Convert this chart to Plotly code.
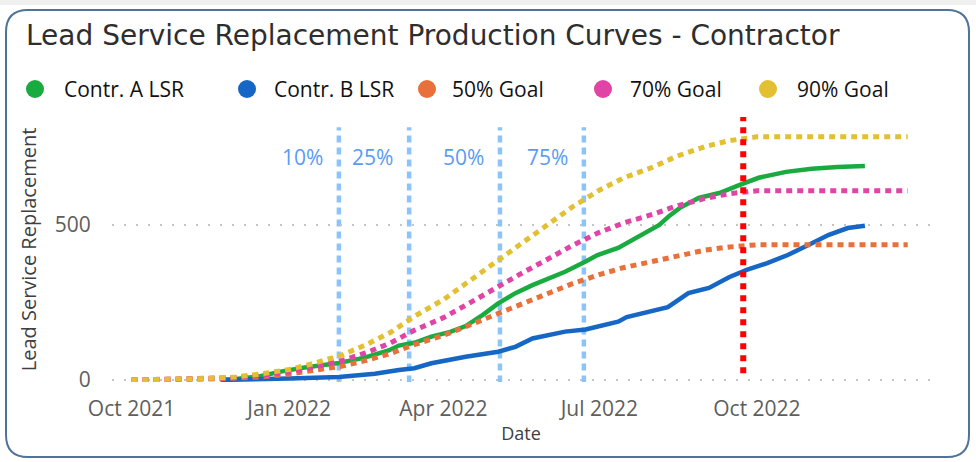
import plotly.graph_objects as go

# ---------------- data ----------------
goal_dates = ["2021-10-01", "2021-10-15", "2021-11-01", "2021-11-15", "2021-12-01", "2021-12-15",
              "2022-01-01", "2022-01-15", "2022-02-01", "2022-02-15", "2022-03-01", "2022-03-15",
              "2022-04-01", "2022-04-15", "2022-05-01", "2022-05-15", "2022-06-01", "2022-06-15",
              "2022-07-01", "2022-07-15", "2022-08-01", "2022-08-15", "2022-09-01", "2022-09-15",
              "2022-10-01", "2022-12-28"]
goal_90 = [0, 1, 2, 5, 10, 19, 34, 53, 81, 114, 153, 205, 259, 314, 380, 435, 502, 557, 612, 651,
           686, 721, 753, 772, 784, 784]
goal_70 = [0, 1, 2, 4, 8, 15, 26, 41, 63, 88, 119, 160, 201, 244, 296, 339, 390, 433, 476, 506,
           534, 561, 586, 601, 610, 610]
goal_50 = [0, 0, 1, 3, 6, 10, 19, 30, 45, 63, 85, 114, 144, 174, 211, 242, 279, 310, 340, 362,
           382, 401, 419, 429, 436, 436]

a_dates = ["2021-11-22", "2021-12-01", "2021-12-15", "2021-12-27", "2022-01-10", "2022-01-30",
           "2022-02-14", "2022-02-28", "2022-03-06", "2022-03-15", "2022-03-25", "2022-04-05",
           "2022-04-14", "2022-04-24", "2022-05-03", "2022-05-13", "2022-05-23", "2022-06-01",
           "2022-06-11", "2022-06-23", "2022-06-30", "2022-07-12", "2022-07-24", "2022-08-05",
           "2022-08-11", "2022-08-17", "2022-08-28", "2022-09-09", "2022-09-21", "2022-10-02",
           "2022-10-18", "2022-11-02", "2022-11-17", "2022-12-03"]
a_vals = [0, 3, 12, 27, 40, 55, 72, 95, 111, 120, 140, 155, 174, 210, 247, 280, 306, 325, 349, 382,
          403, 426, 461, 500, 530, 555, 587, 603, 629, 652, 671, 681, 687, 690]

b_dates = ["2021-11-22", "2021-12-15", "2022-01-01", "2022-01-30", "2022-02-20", "2022-03-06",
           "2022-03-15", "2022-03-25", "2022-04-14", "2022-05-03", "2022-05-13", "2022-05-23",
           "2022-06-11", "2022-06-23", "2022-07-12", "2022-07-17", "2022-07-30", "2022-08-10",
           "2022-08-22", "2022-09-03", "2022-09-15", "2022-09-25", "2022-10-07", "2022-10-19",
           "2022-10-31", "2022-11-12", "2022-11-23", "2022-12-03"]
b_vals = [0, 2, 5, 10, 20, 32, 38, 54, 75, 91, 107, 134, 156, 163, 188, 203, 219, 235, 280, 297,
          332, 355, 377, 403, 435, 468, 490, 497]

milestone_dates = ["2022-01-30", "2022-03-12", "2022-05-04", "2022-06-22"]
milestone_labels = ["10%", "25%", "50%", "75%"]
today_date = "2022-09-23"

tick_dates = ["2021-10-01", "2022-01-01", "2022-04-01", "2022-07-01", "2022-10-01"]
tick_labels = ["Oct 2021", "Jan 2022", "Apr 2022", "Jul 2022", "Oct 2022"]
y_ticks = [0, 500]

series_names = ["Contr. A LSR", "Contr. B LSR", "50% Goal", "70% Goal", "90% Goal"]
colors = ["#1AAB40", "#1666C5", "#E8703A", "#E044A7", "#E2C031"]

# ---------------- layout geometry (pixels) ----------------
W, H = 976, 462
L, R, T, B = 112, 930, 117, 382
FONT = "Open Sans"
TITLE_FONT = "DejaVu Sans"


def px(x):
    return (x - L) / (R - L)


def py(y):
    return (B - y) / (B - T)


fig = go.Figure()

fig.add_trace(go.Scatter(x=a_dates, y=a_vals, mode="lines", name=series_names[0],
                         line=dict(color=colors[0], width=4.5)))
fig.add_trace(go.Scatter(x=b_dates, y=b_vals, mode="lines", name=series_names[1],
                         line=dict(color=colors[1], width=4.5)))
for vals, nm, c in [(goal_50, series_names[2], colors[2]),
                    (goal_70, series_names[3], colors[3]),
                    (goal_90, series_names[4], colors[4])]:
    fig.add_trace(go.Scatter(x=goal_dates, y=vals, mode="lines", name=nm,
                             line=dict(color=c, width=5, dash="6px,5px")))

shapes = []
annotations = []

# milestone lines + labels
for d, lab in zip(milestone_dates, milestone_labels):
    shapes.append(dict(type="line", xref="x", yref="y", x0=d, x1=d, y0=-8, y1=815,
                       line=dict(color="#8CC4FA", width=4.5, dash="7px,5px"), layer="below"))
    annotations.append(dict(x=d, y=719, xref="x", yref="y", text=lab, showarrow=False,
                            xanchor="right", yanchor="middle", xshift=-14,
                            font=dict(family=FONT, size=21, color="#5A9BF5")))

# today line
shapes.append(dict(type="line", xref="x", yref="y", x0=today_date, x1=today_date, y0=22, y1=848,
                   line=dict(color="#FF0000", width=6, dash="6px,6px"), layer="above"))


def P(x, y):
    return f"{px(x):.5f},{py(y):.5f}"


# card border
x0, y0, x1, y1, r = 6, 10, 969, 457, 22
path = (f"M {P(x0 + r, y0)} L {P(x1 - r, y0)} Q {P(x1, y0)} {P(x1, y0 + r)} "
        f"L {P(x1, y1 - r)} Q {P(x1, y1)} {P(x1 - r, y1)} L {P(x0 + r, y1)} "
        f"Q {P(x0, y1)} {P(x0, y1 - r)} L {P(x0, y0 + r)} Q {P(x0, y0)} {P(x0 + r, y0)} Z")
shapes.append(dict(type="path", xref="paper", yref="paper", path=path,
                   line=dict(color="#4F7399", width=2), layer="above"))
shapes.append(dict(type="rect", xref="paper", yref="paper", x0=px(0), x1=px(W), y0=py(0), y1=py(5),
                   fillcolor="#F0F0F0", line=dict(width=0), layer="below"))

# title
annotations.append(dict(x=px(24), y=py(35), xref="paper", yref="paper",
                        text="Lead Service Replacement Production Curves - Contractor",
                        showarrow=False, xanchor="left", yanchor="middle",
                        font=dict(family=TITLE_FONT, size=28, color="#2E2E2E")))

# manual legend
legend_circle_x = [35, 247, 427, 603, 768]
legend_text_x = [62, 272, 450, 628, 795]
for cx, tx, nm, c in zip(legend_circle_x, legend_text_x, series_names, colors):
    shapes.append(dict(type="circle", xref="paper", yref="paper", xsizemode="pixel",
                       ysizemode="pixel", xanchor=px(cx), yanchor=py(89),
                       x0=-9, x1=9, y0=-9, y1=9, fillcolor=c, line=dict(width=0)))
    annotations.append(dict(x=px(tx), y=py(89), xref="paper", yref="paper", text=nm,
                            showarrow=False, xanchor="left", yanchor="middle",
                            font=dict(family=FONT, size=21, color="#111111")))

fig.update_layout(
    width=W, height=H,
    margin=dict(l=L, r=W - R, t=T, b=H - B),
    paper_bgcolor="white", plot_bgcolor="white",
    showlegend=False,
    shapes=shapes, annotations=annotations,
    font=dict(family=FONT),
    xaxis=dict(type="date", range=["2021-09-19 14:00", "2023-01-10"],
               tickvals=tick_dates, ticktext=tick_labels, showgrid=False, zeroline=False,
               showline=False, ticks="outside", ticklen=8, tickcolor="rgba(0,0,0,0)",
               tickfont=dict(family=FONT, size=21, color="#605E5C"),
               title=dict(text="Date", standoff=6, font=dict(family=FONT, size=18, color="#404040"))),
    yaxis=dict(range=[-6.5, 848], tickvals=y_ticks, showgrid=True, gridcolor="#C4C4C4",
               griddash="2px,10px", gridwidth=2, zeroline=False, showline=False,
               ticks="outside", ticklen=16, tickcolor="rgba(0,0,0,0)",
               tickfont=dict(family=FONT, size=21, color="#605E5C"),
               title=dict(text="Lead Service Replacement", standoff=12,
                          font=dict(family=FONT, size=20, color="#404040"))),
)

fig.write_html("out.html", config={"displayModeBar": False},
               post_script="document.body.style.margin='0';document.body.style.overflow='hidden';")
